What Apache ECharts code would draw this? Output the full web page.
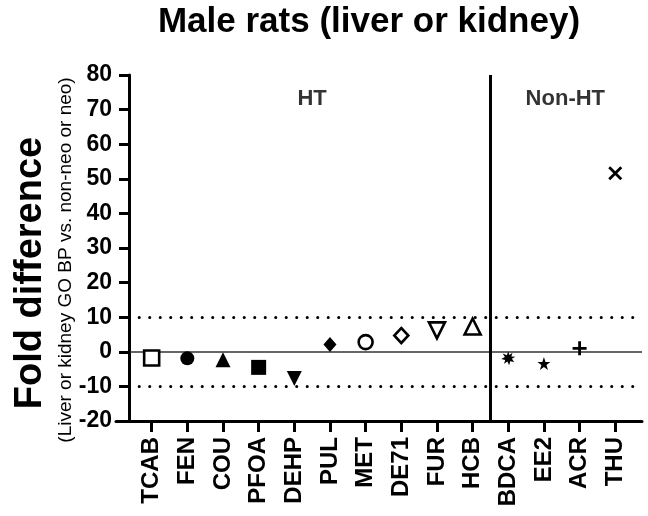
<!DOCTYPE html>
<html><head><meta charset="utf-8">
<script src="https://cdn.jsdelivr.net/npm/echarts@6/dist/echarts.min.js"></script>
<style>html,body{margin:0;padding:0;background:#fff}#c{width:648px;height:516px}</style>
</head><body><div id="c"></div>
<script>
const categories = ['TCAB','FEN','COU','PFOA','DEHP','PUL','MET','DE71','FUR','HCB','BDCA','EE2','ACR','THU'];
const values = [-1.8, -1.9, -2.3, -4.5, -7.7, 2.1, 2.8, 4.7, 6.2, 7.3, -1.9, -3.4, 1.0, 51.6];
const yTicks = [-20, -10, 0, 10, 20, 30, 40, 50, 60, 70, 80];
const groupLabels = ['HT', 'Non-HT'];
const groupLabelX = [5.5, 12.6];
const groupSplit = 10.5;
const thresholds = [10, -10];

const F = '"Liberation Sans", Arial, sans-serif';
const star = 'path://M50,0 L61.8,35.1 L98.9,35.1 L69,57 L80.3,92 L50,70.4 L19.7,92 L31,57 L1.1,35.1 L38.2,35.1 Z';
const plus = 'path://M40,0 L60,0 L60,40 L100,40 L100,60 L60,60 L60,100 L40,100 L40,60 L0,60 L0,40 L40,40 Z';
const cross = 'path://M14,0 L50,36 L86,0 L100,14 L64,50 L100,86 L86,100 L50,64 L14,100 L0,86 L36,50 L0,14 Z';
const burst = 'path://M50,0 L58,26 L80,10 L72,36 L100,38 L76,52 L92,76 L64,70 L56,100 L44,72 L20,88 L28,62 L0,54 L26,40 L10,16 L40,28 Z';
// symbol styles per point (style only)
const sym = [
  {s:'rect', z:15, open:true},
  {s:'circle', z:14},
  {s:'triangle', z:15},
  {s:'rect', z:15},
  {s:'triangle', z:15, r:180},
  {s:'diamond', z:[13,15]},
  {s:'circle', z:14, open:true},
  {s:'diamond', z:[14,15], open:true},
  {s:'triangle', z:16, r:180, open:true},
  {s:'triangle', z:16, open:true},
  {s:burst, z:14},
  {s:star, z:13},
  {s:plus, z:14},
  {s:cross, z:14}
];

const data = values.map((v, i) => {
  const st = sym[i];
  return {
    value: [i + 1, v],
    symbol: st.s,
    symbolSize: st.z,
    symbolRotate: st.r || 0,
    itemStyle: st.open ? {color:'#fff', borderColor:'#000', borderWidth:2.6, opacity:1} : {color:'#000', borderWidth:0, opacity:1}
  };
});

const chart = echarts.init(document.getElementById('c'), null, {renderer:'canvas'});
chart.setOption({
  animation: false,
  backgroundColor: '#fff',
  title: {text:'Male rats (liver or kidney)', left: 364, top: 0, textAlign:'center',
    textStyle:{fontFamily:F, fontWeight:'bold', fontSize:35, color:'#000'}},
  grid: {left:116, right:6, top:75, bottom:95, containLabel:false},
  xAxis: {
    type:'value', min:0, max:14.75, interval:1,
    splitLine:{show:false},
    axisLine:{show:true, onZero:false, lineStyle:{color:'#000', width:3}},
    axisTick:{show:true, length:11, customValues: categories.map((c,i)=>i+1), lineStyle:{color:'#000', width:3}},
    axisLabel:{show:true, rotate:90, customValues: categories.map((c,i)=>i+1), margin:16,
      formatter: v => categories[Math.round(v) - 1] || '',
      fontFamily:F, fontWeight:'bold', fontSize:24, color:'#000'}
  },
  yAxis: {
    type:'value', min:-20, max:80, interval:10, offset:-13,
    splitLine:{show:false},
    axisLine:{show:true, onZero:false, lineStyle:{color:'#000', width:3}},
    axisTick:{show:true, length:10, lineStyle:{color:'#000', width:3}},
    axisLabel:{fontFamily:F, fontWeight:'bold', fontSize:23, color:'#000', margin:17,
      formatter: v => yTicks.includes(v) ? String(v) : ''}
  },
  graphic: [
    {type:'text', rotation:Math.PI/2, x:31, y:273,
      style:{text:'Fold difference', font:'bold 38px ' + F, fill:'#000', textAlign:'center', textVerticalAlign:'middle'}},
    {type:'text', rotation:Math.PI/2, x:66, y:260,
      style:{text:'(Liver or kidney GO BP vs. non-neo or neo)', font:'19px ' + F, fill:'#000', textAlign:'center', textVerticalAlign:'middle'}}
  ],
  series: [
    {
      type:'scatter', data: data, z:5,
      markLine: {
        silent:true, symbol:'none', label:{show:false},
        data: [
          [{coord:[0.4, 0], lineStyle:{color:'#333', width:1.5, type:'solid'}}, {coord:[14.75, 0]}],
          ...thresholds.map(t => [{coord:[0.65, t], lineStyle:{color:'#000', width:3, type:[0.1, 10.4], cap:'round'}}, {coord:[14.5, t]}]),
          [{coord:[groupSplit, 80], lineStyle:{color:'#000', width:3, type:'solid'}}, {coord:[groupSplit, -20]}]
        ]
      }
    },
    {
      type:'scatter', data: groupLabels.map((g,i)=>({value:[groupLabelX[i], 73], name:g})),
      symbolSize:0, silent:true,
      label:{show:true, position:'inside', formatter: p => p.name, fontFamily:F, fontWeight:'bold', fontSize:22, color:'#000'}
    }
  ]
});
</script>
</body></html>
